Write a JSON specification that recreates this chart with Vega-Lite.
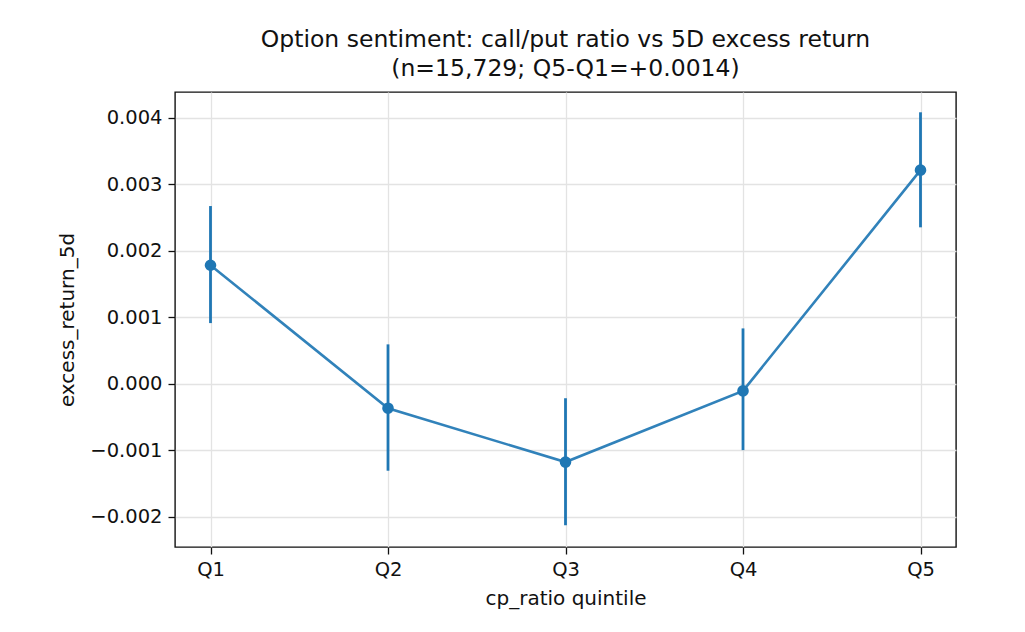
{
  "$schema": "https://vega.github.io/schema/vega-lite/v6.json",
  "autosize": {"type": "none"},
  "width": 781,
  "height": 455,
  "padding": {"left": 175, "top": 92, "right": 69, "bottom": 85},
  "background": "white",
  "title": {
    "text": ["Option sentiment: call/put ratio vs 5D excess return", "(n=15,729; Q5-Q1=+0.0014)"],
    "font": "DejaVu Sans",
    "fontSize": 23.5,
    "fontWeight": "normal",
    "color": "#111111",
    "lineHeight": 29,
    "offset": 12,
    "anchor": "middle"
  },
  "config": {
    "font": "DejaVu Sans",
    "view": {"stroke": "#111111", "strokeWidth": 1.4},
    "axis": {
      "domain": false,
      "grid": true,
      "gridColor": "#e3e3e3",
      "gridWidth": 1.3,
      "tickColor": "#111111",
      "tickSize": 7,
      "tickWidth": 1.3,
      "labelFont": "DejaVu Sans",
      "labelFontSize": 19.5,
      "labelColor": "#111111",
      "labelPadding": 6,
      "titleFont": "DejaVu Sans",
      "titleFontSize": 20,
      "titleFontWeight": "normal",
      "titleColor": "#111111"
    }
  },
  "data": {
    "values": [
      {"quintile": "Q1", "mean": 0.00178, "lo": 0.00091, "hi": 0.00267},
      {"quintile": "Q2", "mean": -0.00037, "lo": -0.00131, "hi": 0.00059},
      {"quintile": "Q3", "mean": -0.00118, "lo": -0.00213, "hi": -0.00022},
      {"quintile": "Q4", "mean": -0.00011, "lo": -0.00100, "hi": 0.00083},
      {"quintile": "Q5", "mean": 0.00321, "lo": 0.00235, "hi": 0.00408}
    ]
  },
  "encoding": {
    "x": {
      "field": "quintile",
      "type": "ordinal",
      "scale": {"type": "point", "padding": 0.2},
      "axis": {"title": "cp_ratio quintile", "labelAngle": 0, "titlePadding": 10}
    }
  },
  "layer": [
    {
      "mark": {"type": "rule", "color": "#1f77b4", "strokeWidth": 2.8},
      "encoding": {
        "y": {"field": "lo", "type": "quantitative"},
        "y2": {"field": "hi"}
      }
    },
    {
      "mark": {"type": "line", "color": "#1f77b4", "strokeWidth": 2.6, "opacity": 0.92},
      "encoding": {
        "y": {
          "field": "mean",
          "type": "quantitative",
          "scale": {"domain": [-0.002457, 0.004385], "nice": false, "zero": false},
          "axis": {
            "title": "excess_return_5d",
            "values": [-0.002, -0.001, 0, 0.001, 0.002, 0.003, 0.004],
            "format": ".3f",
            "labelExpr": "replace(datum.label, '-', '\u2212')",
            "titlePadding": 12
          }
        }
      }
    },
    {
      "mark": {"type": "point", "filled": true, "color": "#1f77b4", "size": 135, "opacity": 1},
      "encoding": {
        "y": {"field": "mean", "type": "quantitative"}
      }
    }
  ]
}
